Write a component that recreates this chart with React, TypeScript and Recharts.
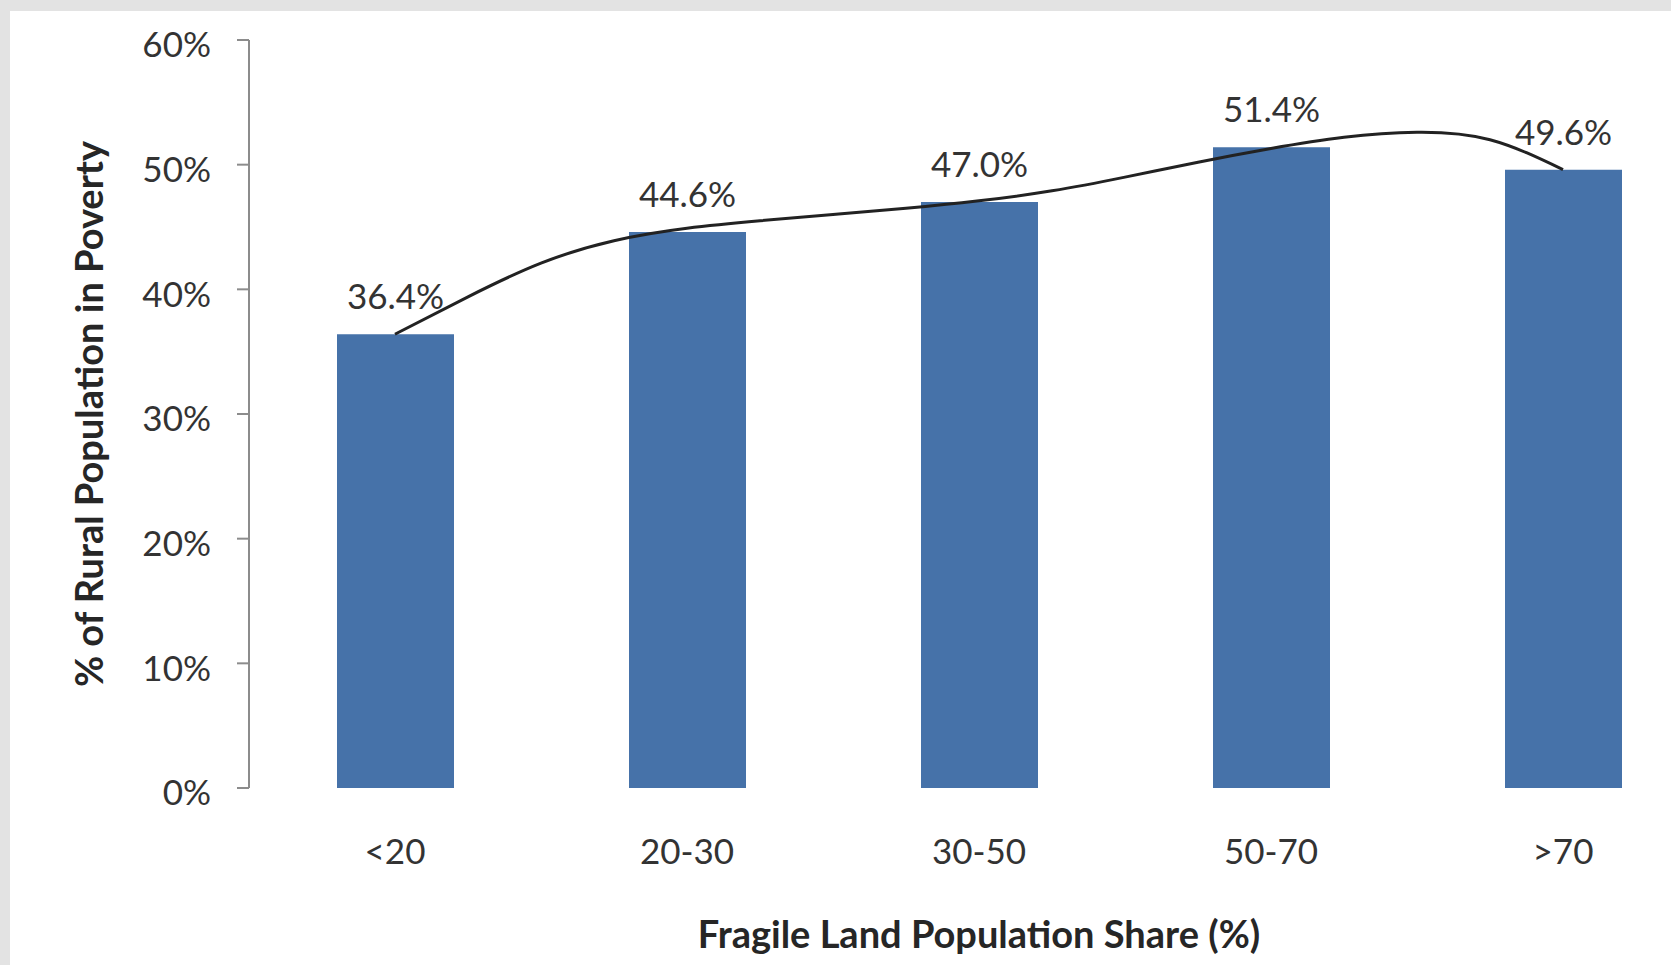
import React from 'react';
import { ComposedChart, Bar, Line, XAxis, YAxis, LabelList } from 'recharts';

const categories = ['<20', '20-30', '30-50', '50-70', '>70'];
const povertyShare = [36.4, 44.6, 47.0, 51.4, 49.6];
const yTicks = [0, 10, 20, 30, 40, 50, 60];
const bandEdges = [0, 1, 2, 3, 4, 5];

// trend curve, position in category units (band centre = i + 0.5)
const trendPos = [0.5, 0.75, 1.0, 1.25, 1.5, 1.75, 2.0, 2.25, 2.5, 2.75, 3.0, 3.25, 3.5, 3.75, 4.0, 4.25, 4.5];
const trendVal = [36.4, 39.4, 42.1, 43.9, 44.9, 45.5, 46.0, 46.5, 47.1, 47.9, 49.0, 50.2, 51.3, 52.2, 52.6, 52.0, 49.6];

const barData = categories.map((cat, i) => ({ cat, value: povertyShare[i] }));
const trendData = trendPos.map((u, i) => ({ u, v: trendVal[i] }));

const FONT = 'Lato, "Open Sans", sans-serif';
const AXIS_GREY = '#8c8c8c';
const TEXT = '#333333';

export default function App() {
    return (
        <div style={{ position: 'fixed', left: 0, top: 0, width: 1671, height: 965, background: '#e3e3e3', overflow: 'hidden' }}>
            <div style={{ position: 'absolute', left: 10, top: 11, right: 0, bottom: 0, background: '#ffffff' }} />
            <div style={{ position: 'absolute', left: 0, top: 0, width: 1653, height: 965, overflow: 'hidden' }}>
                <ComposedChart width={1709} height={965} data={barData} margin={{ top: 40, right: 0, bottom: 0, left: 0 }}>
                    {/* numeric axis without labels: draws the baseline and the ticks between categories */}
                    <XAxis
                        xAxisId={0}
                        dataKey="u"
                        type="number"
                        domain={[0, 5]}
                        allowDataOverflow
                        ticks={bandEdges}
                        interval={0}
                        height={0}
                        tick={false}
                        tickSize={12}
                        axisLine={{ stroke: AXIS_GREY, strokeWidth: 2 }}
                        tickLine={{ stroke: AXIS_GREY, strokeWidth: 2 }}
                    />
                    <XAxis
                        xAxisId={1}
                        dataKey="cat"
                        height={177}
                        axisLine={false}
                        tickLine={false}
                        tickSize={0}
                        tickMargin={51}
                        interval={0}
                        tick={{ fill: TEXT, fontSize: 35, fontFamily: FONT }}
                        label={{
                            value: 'Fragile Land Population Share (%)',
                            position: 'insideBottom',
                            offset: 17,
                            fill: '#262626',
                            fontSize: 38,
                            fontWeight: 700,
                            fontFamily: FONT,
                        }}
                    />
                    <YAxis
                        width={249}
                        domain={[0, 60]}
                        ticks={yTicks}
                        interval={0}
                        tickSize={12}
                        tickMargin={26}
                        tickFormatter={(v: number) => `${v}%`}
                        axisLine={{ stroke: AXIS_GREY, strokeWidth: 2 }}
                        tickLine={{ stroke: AXIS_GREY, strokeWidth: 2 }}
                        tick={{ fill: TEXT, fontSize: 35, fontFamily: FONT, dy: 5 }}
                        label={{
                            value: '% of Rural Population in Poverty',
                            angle: -90,
                            position: 'insideLeft',
                            offset: 90,
                            fill: '#262626',
                            fontSize: 38,
                            fontWeight: 700,
                            fontFamily: FONT,
                            style: { textAnchor: 'middle' },
                        }}
                    />
                    <Bar xAxisId={1} dataKey="value" fill="#4672a9" barSize={117} isAnimationActive={false}>
                        <LabelList
                            dataKey="value"
                            position="top"
                            offset={25}
                            formatter={(v: number) => `${v.toFixed(1)}%`}
                            fill={TEXT}
                            fontSize={35}
                            fontFamily={FONT}
                        />
                    </Bar>
                    <Line
                        xAxisId={0}
                        data={trendData}
                        dataKey="v"
                        type="natural"
                        stroke="#222222"
                        strokeWidth={3}
                        dot={false}
                        activeDot={false}
                        isAnimationActive={false}
                    />
                </ComposedChart>
            </div>
        </div>
    );
}
